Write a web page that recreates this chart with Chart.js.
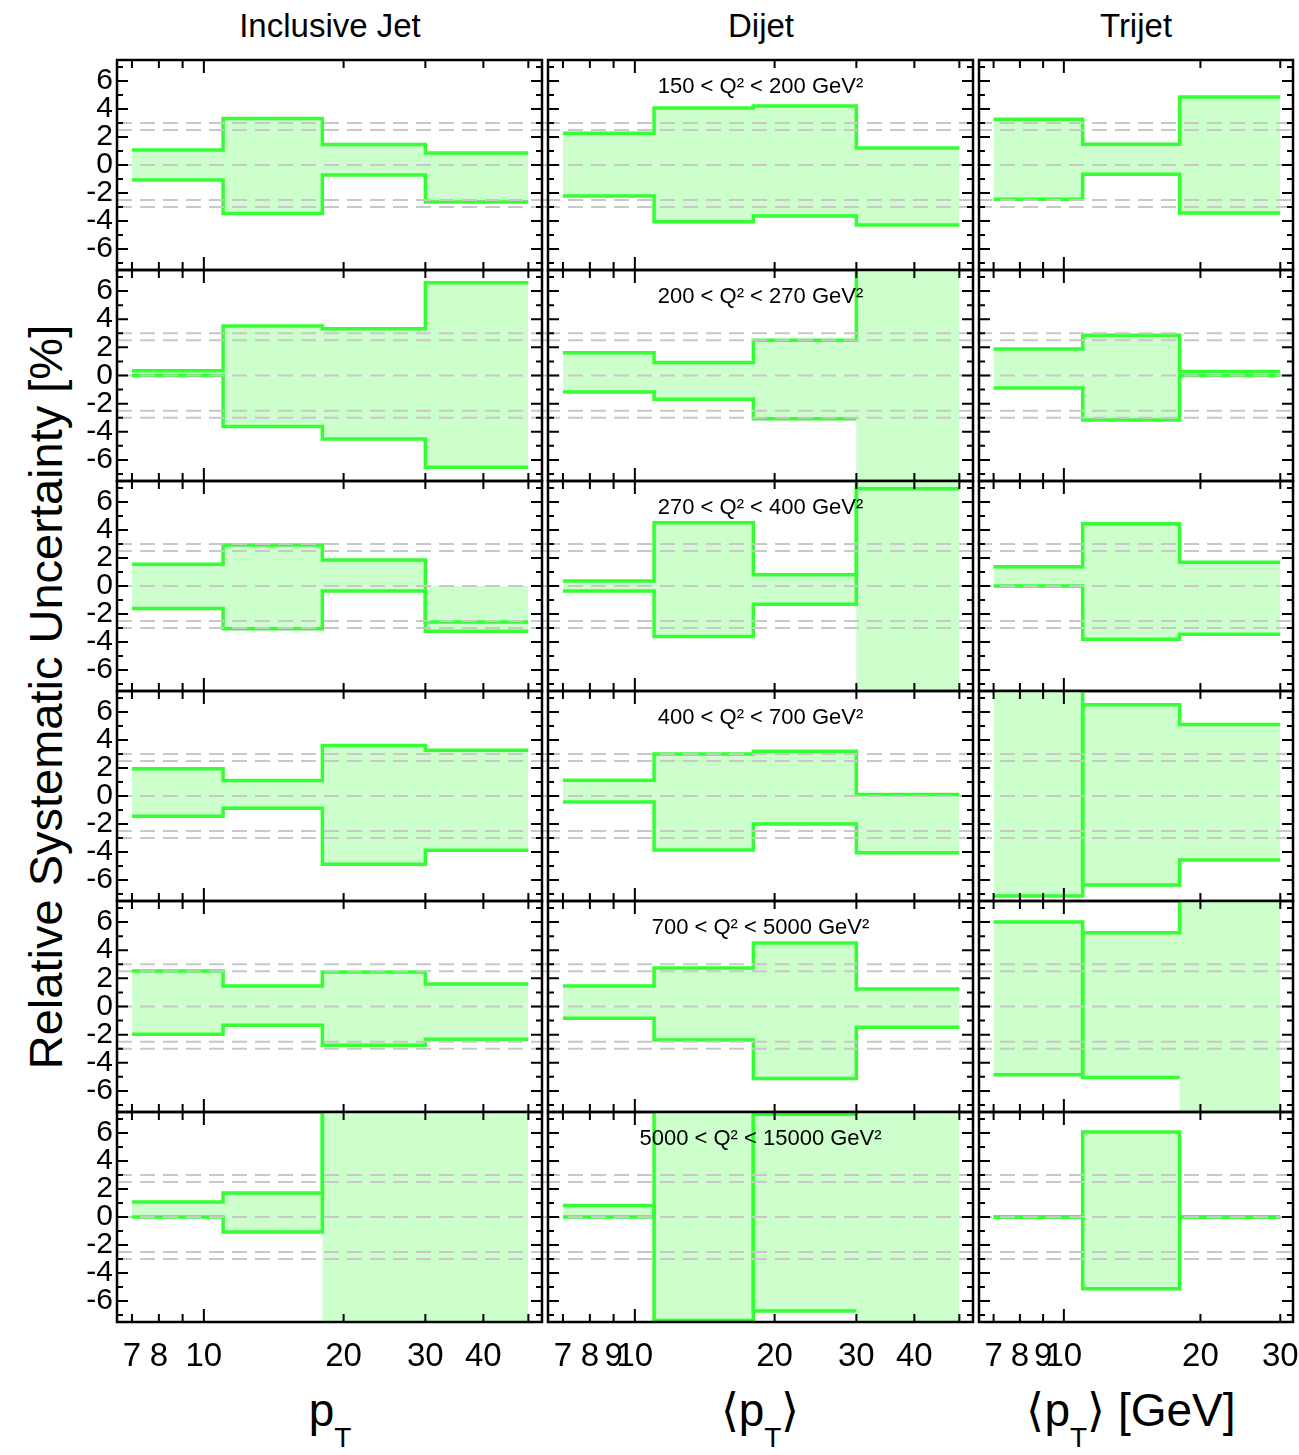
<!DOCTYPE html>
<html>
<head>
<meta charset="utf-8">
<title>Relative systematic uncertainty</title>
<script src="https://cdn.jsdelivr.net/npm/chart.js@4.4.1/dist/chart.umd.min.js"></script>
<style>
  body { margin: 0; background: #fff; }
  #fig {
    position: relative; width: 1299px; height: 1455px; overflow: hidden;
    font-family: "Liberation Sans", Arial, Helvetica, sans-serif; color: #000;
  }
  #fig canvas { position: absolute; }
  .coltitle {
    position: absolute; top: 9px; font-size: 33px; line-height: 1;
    transform: translateX(-50%); white-space: nowrap;
  }
  .xtitle {
    position: absolute; top: 1387px; font-size: 46px; line-height: 1;
    transform: translateX(-50%); white-space: nowrap;
  }
  .xtitle sub { font-size: 28px; vertical-align: -21px; line-height: 1; }
  #ytitle {
    position: absolute; left: 45px; top: 697px; font-size: 47px; line-height: 1;
    transform: translate(-50%, -50%) rotate(-90deg); white-space: nowrap;
  }
</style>
</head>
<body>
<div id="fig">
  <div class="coltitle" style="left:330px">Inclusive Jet</div>
  <div class="coltitle" style="left:761px">Dijet</div>
  <div class="coltitle" style="left:1136px">Trijet</div>
  <div id="ytitle">Relative Systematic Uncertainty [%]</div>
  <div class="xtitle" style="left:330px">p<sub>T</sub></div>
  <div class="xtitle" style="left:760px">⟨p<sub>T</sub>⟩</div>
  <div class="xtitle" style="left:1131px">⟨p<sub>T</sub>⟩ [GeV]</div>
</div>
<script>
// pT bin edges [GeV]
const jetEdges = [7, 11, 18, 30, 50];
const trijetEdges = [7, 11, 18, 30];

const q2Ranges = [
  "150 < Q² < 200 GeV²",
  "200 < Q² < 270 GeV²",
  "270 < Q² < 400 GeV²",
  "400 < Q² < 700 GeV²",
  "700 < Q² < 5000 GeV²",
  "5000 < Q² < 15000 GeV²"
];

// uncertainty in % per Q2 bin (rows) and pT bin; |value| > 7.5 runs off the frame,
// null means no line drawn in that bin
const incUp = [
  [1.07, 3.33, 1.46, 0.86],
  [0.33, 3.52, 3.33, 6.60],
  [1.55, 2.93, 1.86, -2.57],
  [1.95, 1.10, 3.60, 3.26],
  [2.52, 1.45, 2.45, 1.60],
  [1.07, 1.71, 10, 10]
];
const incDown = [
  [-1.07, -3.47, -0.71, -2.64],
  [0.00, -3.62, -4.52, -6.52],
  [-1.60, -3.05, -0.36, -3.24],
  [-1.45, -0.88, -4.88, -3.88],
  [-1.98, -1.33, -2.76, -2.33],
  [0.00, -1.07, 10, 10]
];
const dijUp = [
  [2.26, 4.07, 4.21, 1.21],
  [1.62, 0.93, 2.50, 10],
  [0.36, 4.52, 0.81, 6.95],
  [1.12, 3.00, 3.19, 0.10],
  [1.45, 2.74, 4.52, 1.24],
  [0.83, -7.40, 7.34, null]
];
const dijDown = [
  [-2.21, -4.05, -3.64, -4.29],
  [-1.17, -1.69, -3.07, null],
  [-0.36, -3.60, -1.31, 10],
  [-0.43, -3.86, -2.00, -4.05],
  [-0.83, -2.38, -5.12, -1.48],
  [0.00, 10, -6.71, null]
];
const triUp = [
  [3.26, 1.48, 4.86],
  [1.88, 2.86, 0.29],
  [1.38, 4.45, 1.69],
  [-7.14, 6.52, 5.10],
  [6.00, -5.05, null],
  [0.00, 6.07, 0.00]
];
const triDown = [
  [-2.45, -0.66, -3.43],
  [-0.88, -3.17, 0.00],
  [0.00, -3.81, -3.45],
  [10, -6.36, -4.57],
  [-4.86, 5.24, 10],
  [0.00, -5.12, 0.00]
];

// bins whose band fills the whole frame
const incFull = [[], [], [], [], [], [2, 3]];
const dijFull = [[], [3], [3], [], [], [3]];
const triFull = [[], [], [], [], [2], []];

const yTickLabels = [-6, -4, -2, 0, 2, 4, 6];
const yTickMarks = [-7, -6, -5, -4, -3, -2, -1, 0, 1, 2, 3, 4, 5, 6, 7];
const refLevels = [-3, -2.5, 0, 2.5, 3];

const jetTickMarks = [7, 8, 9, 10, 20, 30, 40, 50];
const trijetTickMarks = [7, 8, 9, 10, 20, 30];
const incTickLabels = [7, 8, 10, 20, 30, 40];
const dijTickLabels = [7, 8, 9, 10, 20, 30, 40];
const triTickLabels = [7, 8, 9, 10, 20, 30];

const GREEN = '#33ff33';
const BAND = '#ccffcc';
const FONT = '"Liberation Sans", Arial, Helvetica, sans-serif';

const rowTops = [60, 270, 481, 691, 901, 1112, 1322];
const columns = [
  { edges: jetEdges, up: incUp, down: incDown, full: incFull, marks: jetTickMarks,
    labels: incTickLabels, xMin: 6.5, xMax: 53.5, left: 117, right: 542, canvasLeft: 40, canvasRight: 545 },
  { edges: jetEdges, up: dijUp, down: dijDown, full: dijFull, marks: jetTickMarks,
    labels: dijTickLabels, xMin: 6.5, xMax: 53.5, left: 548, right: 973, canvasLeft: 545, canvasRight: 977, q2: true },
  { edges: trijetEdges, up: triUp, down: triDown, full: triFull, marks: trijetTickMarks,
    labels: triTickLabels, xMin: 6.5, xMax: 32, left: 979, right: 1293, canvasLeft: 977, canvasRight: 1299 }
];

// histogram outline: two points per bin so bin edges give vertical steps
function steps(edges, vals) {
  const pts = [];
  vals.forEach((v, i) => {
    pts.push({ x: edges[i], y: v }, { x: edges[i + 1], y: v });
  });
  return pts;
}

// dashed reference levels, frame, inward ticks and the Q2 label
const panelFrame = {
  id: 'panelFrame',
  afterDatasetsDraw(chart, args, opts) {
    const { ctx, chartArea: a } = chart;
    const x = chart.scales.x, y = chart.scales.y;
    ctx.save();
    ctx.strokeStyle = '#c8c8c8';
    ctx.lineWidth = 2;
    ctx.setLineDash([15, 8]);
    refLevels.forEach(v => {
      const py = y.getPixelForValue(v);
      ctx.beginPath();
      ctx.moveTo(opts.dashFrom, py);
      ctx.lineTo(chart.width, py);
      ctx.stroke();
    });
    ctx.setLineDash([]);
    ctx.strokeStyle = '#000';
    ctx.lineWidth = 2.5;
    ctx.strokeRect(a.left, a.top, a.right - a.left, a.bottom - a.top);
    ctx.lineWidth = 2;
    ctx.beginPath();
    opts.marks.forEach(v => {
      const px = x.getPixelForValue(v);
      const len = v === 10 ? 13 : 8;
      ctx.moveTo(px, a.bottom); ctx.lineTo(px, a.bottom - len);
      ctx.moveTo(px, a.top); ctx.lineTo(px, a.top + len);
    });
    yTickMarks.forEach(v => {
      const py = y.getPixelForValue(v);
      const len = v % 2 === 0 ? 11 : 6;
      ctx.moveTo(a.left, py); ctx.lineTo(a.left + len, py);
      ctx.moveTo(a.right, py); ctx.lineTo(a.right - len, py);
    });
    ctx.stroke();
    if (opts.label) {
      ctx.fillStyle = '#000';
      ctx.font = '22px ' + FONT;
      ctx.textAlign = 'center';
      ctx.textBaseline = 'middle';
      ctx.fillText(opts.label, (a.left + a.right) / 2, a.top + 27);
    }
    ctx.restore();
  }
};

const fig = document.getElementById('fig');

columns.forEach((col, c) => {
  for (let r = 0; r < 6; r++) {
    const bottomRow = r === 5;
    const rowH = rowTops[r + 1] - rowTops[r];
    const w = col.canvasRight - col.canvasLeft;
    const h = rowH + 3 + (bottomRow ? 60 : 3);
    const canvas = document.createElement('canvas');
    canvas.width = w;
    canvas.height = h;
    canvas.style.left = col.canvasLeft + 'px';
    canvas.style.top = (rowTops[r] - 3) + 'px';
    canvas.style.width = w + 'px';
    canvas.style.height = h + 'px';
    fig.appendChild(canvas);

    const up = col.up[r], down = col.down[r], full = col.full[r];
    const hi = up.map((u, i) => full.includes(i) ? 10 : Math.max(u, down[i], 0));
    const lo = up.map((u, i) => full.includes(i) ? -10 : Math.min(u, down[i], 0));

    new Chart(canvas, {
      type: 'line',
      data: {
        datasets: [
          { data: steps(col.edges, up), borderColor: GREEN, borderWidth: 3.5, fill: false },
          { data: steps(col.edges, down), borderColor: GREEN, borderWidth: 3.5, fill: false },
          { data: steps(col.edges, hi), borderColor: 'rgba(0,0,0,0)', borderWidth: 0, backgroundColor: BAND, fill: 'origin' },
          { data: steps(col.edges, lo), borderColor: 'rgba(0,0,0,0)', borderWidth: 0, backgroundColor: BAND, fill: 'origin' }
        ]
      },
      options: {
        responsive: false,
        animation: false,
        events: [],
        elements: { point: { radius: 0 }, line: { tension: 0 } },
        layout: {
          padding: {
            top: 3,
            bottom: bottomRow ? 0 : 3,
            left: c === 0 ? 0 : col.left - col.canvasLeft,
            right: col.canvasRight - col.right
          }
        },
        plugins: {
          legend: { display: false },
          tooltip: { enabled: false },
          panelFrame: {
            dashFrom: c === 0 ? col.left - col.canvasLeft : 0,
            marks: col.marks,
            label: col.q2 ? q2Ranges[r] : null
          }
        },
        scales: {
          x: {
            type: 'logarithmic',
            min: col.xMin,
            max: col.xMax,
            display: bottomRow,
            grid: { display: false, drawTicks: false },
            border: { display: false },
            ticks: {
              autoSkip: false, maxRotation: 0, minRotation: 0,
              color: '#000', padding: 15,
              font: { family: FONT, size: 33 },
              callback: v => col.labels.includes(v) ? String(v) : ''
            },
            afterBuildTicks: s => { s.ticks = col.marks.map(v => ({ value: v })); },
            afterFit: s => {
              if (!bottomRow) return;
              s.height = 60; s.paddingLeft = 0; s.paddingRight = 0;
            }
          },
          y: {
            type: 'linear',
            min: -7.5,
            max: 7.5,
            display: c === 0,
            grid: { display: false, drawTicks: false },
            border: { display: false },
            ticks: { autoSkip: false, color: '#000', padding: 4, font: { family: FONT, size: 30 } },
            afterBuildTicks: s => { s.ticks = yTickLabels.map(v => ({ value: v })); },
            afterFit: s => {
              if (c !== 0) return;
              s.width = col.left - col.canvasLeft; s.paddingTop = 0; s.paddingBottom = 0;
            }
          }
        }
      },
      plugins: [panelFrame]
    });
  }
});
</script>
</body>
</html>
